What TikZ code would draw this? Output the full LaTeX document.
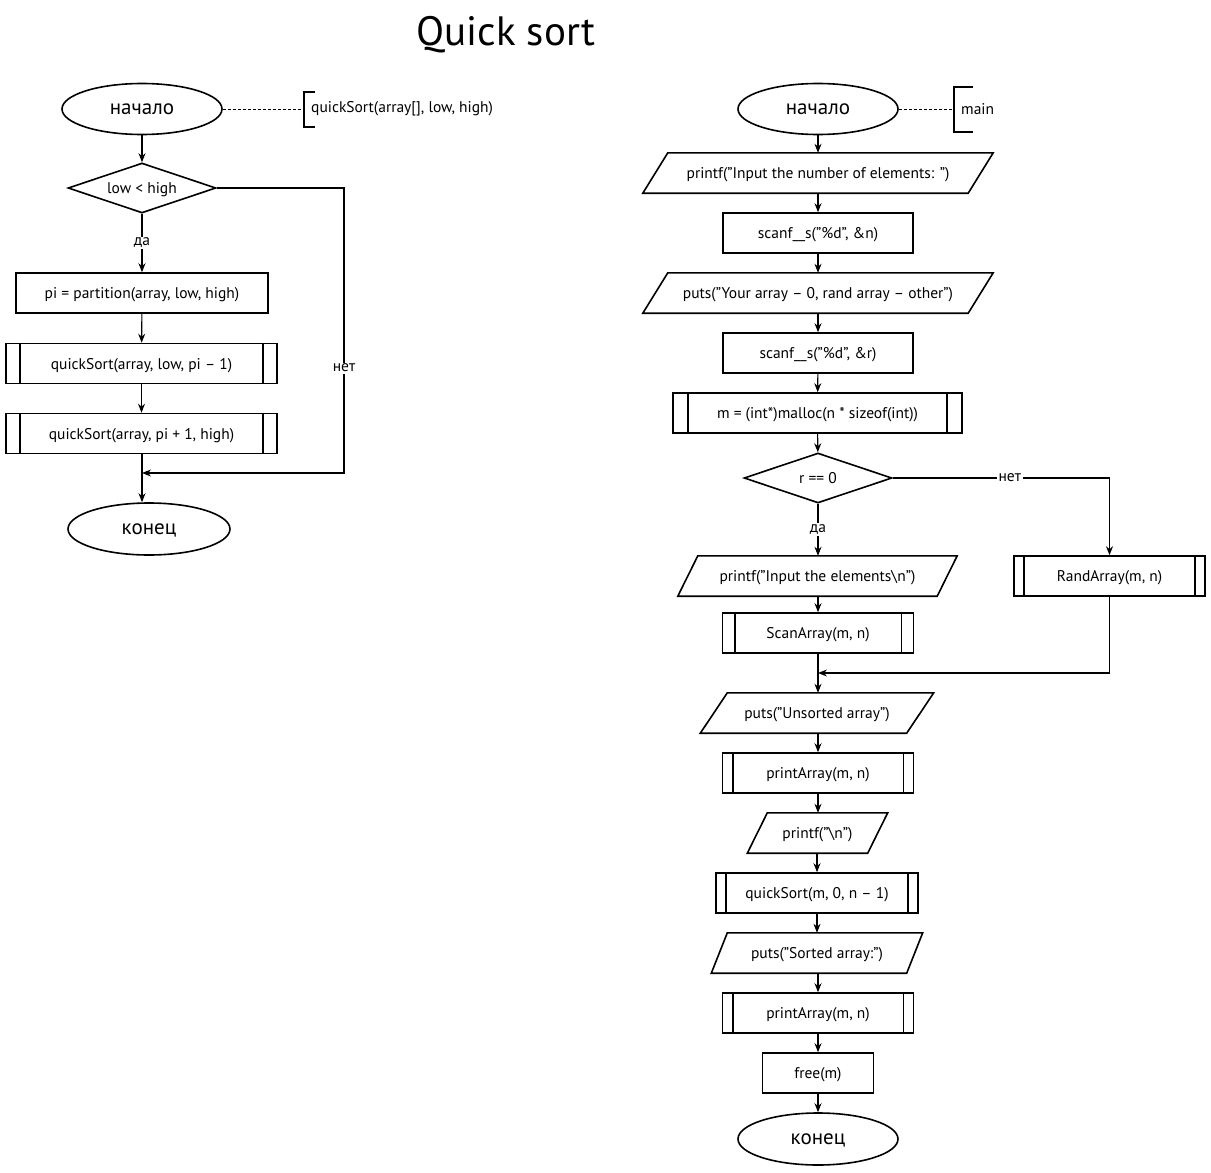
\documentclass[tikz,border=0pt]{standalone}
\usepackage{fontspec}
\setmainfont{PT Sans}
\usetikzlibrary{arrows.meta,shapes.geometric,calc}
\newcommand\iopath[2]{\draw[shp] ([xshift=#2pt]#1.north west) -- ([xshift=#2pt]#1.north east) -- ([xshift=-#2pt]#1.south east) -- ([xshift=-#2pt]#1.south west) -- cycle;}
\newcommand\subpath[2]{\draw[shp] ([xshift=#2pt]#1.north west) -- ([xshift=#2pt]#1.south west); \draw[shp] ([xshift=-#2pt]#1.north east) -- ([xshift=-#2pt]#1.south east);}
\begin{document}
\begin{tikzpicture}[x=1pt,y=-1pt,
  every node/.style={font=\fontsize{15.5}{17}\selectfont, inner sep=0pt},
  shp/.style={line width=1.6pt},
  box/.style={draw, shp, rectangle, minimum height=40pt, text depth=0pt},
  iobox/.style={rectangle, minimum height=40pt, text depth=0pt},
  term/.style={draw, shp, ellipse, minimum width=160pt, minimum height=51pt, text depth=0pt, font=\fontsize{21}{23}\selectfont},
  dec/.style={draw, shp, diamond, aspect=2.96, minimum width=148pt, minimum height=50pt, text depth=0pt},
  conn/.style={line width=1.1pt},
  arr/.style={conn, -{Stealth[length=9pt,width=7pt]}},
  lbl/.style={fill=white, inner sep=1.5pt},
  dashln/.style={line width=0.8pt, dash pattern=on 3pt off 2pt}
]
\useasboundingbox (0,0) rectangle (1211,1173);

% title
\node[font=\fontsize{41}{45}\selectfont] (title) at (506,35) {Quick sort};

% ---------- left chart ----------
\node[term] (s1) at (142,109) {начало};
\coordinate (br1) at (304,109);
\node[anchor=west] (a1) at (311,109) {quickSort(array[], low, high)};
\draw[dashln] (s1.east) -- (br1);
\draw[shp] (315,92) -- (304,92) -- (304,127) -- (315,127);

\node[dec] (d1) at (142,188) {low < high};
\node[box, minimum width=252pt] (b1) at (142,293) {pi = partition(array, low, high)};
\node[box, minimum width=271pt] (q1) at (141.5,363.5) {quickSort(array, low, pi – 1)};
\subpath{q1}{15}
\node[box, minimum width=271pt] (q2) at (141.5,433.5) {quickSort(array, pi + 1, high)};
\subpath{q2}{15}
\node[term, minimum width=162pt, minimum height=52pt] (e1) at (149,529) {конец};
\coordinate (j1) at (142,473);
\coordinate (c1) at (344,473);

\draw[arr] (s1) -- (d1);
\draw[arr] (d1.south) -- node[lbl, pos=0.5]{да} (b1.north);
\draw[arr] (b1) -- (q1);
\draw[arr] (q1) -- (q2);
\draw[arr] (q2.south -| j1) -- (j1 |- e1.north);
\draw[arr] (d1.east) -| node[lbl, pos=0.816]{нет} (c1) -- (j1);

% ---------- right chart ----------
\node[term] (s2) at (818,109) {начало};
\coordinate (br2) at (954,109);
\node[anchor=west] (a2) at (961,109) {main};
\draw[dashln] (s2.east) -- (br2);
\draw[shp] (973,87) -- (954,87) -- (954,132) -- (973,132);

\node[iobox, minimum width=325pt] (p1) at (818,173) {printf("Input the number of elements: ")};
\iopath{p1}{12.5}
\node[box, minimum width=190pt] (r1) at (818,233) {scanf\_\_s("\%d", \&n)};
\node[iobox, minimum width=325pt] (p2) at (818,293) {puts("Your array – 0, rand array – other")};
\iopath{p2}{12.5}
\node[box, minimum width=190pt] (r2) at (818,353) {scanf\_\_s("\%d", \&r)};
\node[box, minimum width=289pt] (m1) at (817.5,413) {m = (int*)malloc(n * sizeof(int))};
\subpath{m1}{16}
\node[dec] (d2) at (818,478) {r == 0};
\node[iobox, minimum width=259pt] (p3) at (817.5,576) {printf("Input the elements\textbackslash n")};
\iopath{p3}{10}
\node[box, minimum width=191pt] (sc) at (818,633) {ScanArray(m, n)};
\subpath{sc}{13}
\node[box, minimum width=191pt] (ra) at (1109.5,576) {RandArray(m, n)};
\subpath{ra}{11}
\coordinate (j2) at (818,673);
\node[iobox, minimum width=206pt] (p4) at (817,713) {puts("Unsorted array")};
\iopath{p4}{13.5}
\node[box, minimum width=191pt] (pa1) at (818,773) {printArray(m, n)};
\subpath{pa1}{11}
\node[iobox, minimum width=120pt] (p5) at (817.5,833) {printf("\textbackslash n")};
\iopath{p5}{10}
\node[box, minimum width=202pt] (qs) at (817,893) {quickSort(m, 0, n – 1)};
\subpath{qs}{11}
\node[iobox, minimum width=195pt] (p6) at (817,953) {puts("Sorted array:")};
\iopath{p6}{8}
\node[box, minimum width=191pt] (pa2) at (818,1013) {printArray(m, n)};
\subpath{pa2}{11}
\node[box, minimum width=111pt] (fr) at (818,1073) {free(m)};
\node[term, minimum height=52pt] (e2) at (818,1139) {конец};

\draw[arr] (s2) -- (p1);
\draw[arr] (p1) -- (r1);
\draw[arr] (r1) -- (p2);
\draw[arr] (p2) -- (r2);
\draw[arr] (r2) -- (m1);
\draw[arr] (m1) -- (d2);
\draw[arr] (d2.south) -- node[lbl]{да} (d2.south |- p3.north);
\draw[arr] (d2.east) -| node[lbl, pos=0.27]{нет} (ra.north);
\draw[arr] (p3.south -| sc.north) -- (sc.north);
\draw[arr] (sc.south) -- (sc.south |- p4.north);
\draw[arr] (ra.south) |- (j2);
\draw[arr] (p4.south -| pa1.north) -- (pa1.north);
\draw[arr] (pa1.south) -- (pa1.south |- p5.north);
\draw[arr] (p5.south -| qs.north) -- (qs.north);
\draw[arr] (qs.south) -- (qs.south |- p6.north);
\draw[arr] (p6.south -| pa2.north) -- (pa2.north);
\draw[arr] (pa2) -- (fr);
\draw[arr] (fr) -- (e2);
\end{tikzpicture}
\end{document}
